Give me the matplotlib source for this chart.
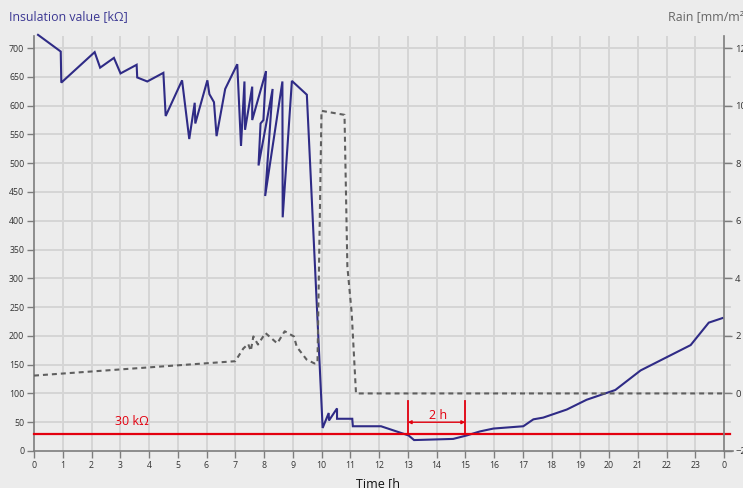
import matplotlib
matplotlib.use("Agg")
import matplotlib.pyplot as plt

plt.rcParams['font.family'] = ['Open Sans', 'DejaVu Sans']

# Insulation value [kOhm] over time [h]
ins_t = [0.14, 0.93, 0.95, 2.11, 2.30, 2.78, 3.01, 3.57, 3.59, 3.94, 4.50, 4.58,
         5.15, 5.40, 5.59, 5.61, 6.03, 6.10, 6.26, 6.35, 6.65, 7.07, 7.20, 7.32,
         7.34, 7.59, 7.59, 8.07, 7.98, 7.88, 7.81, 8.30, 8.04, 8.64, 8.65, 8.97,
         9.49, 10.04, 10.25, 10.26, 10.54, 10.54, 11.07, 11.09, 12.07, 13.03,
         13.22, 14.58, 15.05, 15.51, 15.98, 17.02, 17.37, 17.71, 18.53, 19.22,
         20.22, 21.10, 22.84, 23.47, 23.95]
ins_v = [723, 694, 640, 693, 666, 683, 656, 671, 649, 642, 657, 582,
         644, 542, 605, 569, 644, 620, 606, 547, 629, 672, 530, 642,
         558, 633, 575, 660, 575, 569, 496, 629, 443, 642, 406, 643,
         619, 40, 66, 53, 74, 56, 56, 43, 43, 27,
         19, 21, 27, 34, 39, 43, 55, 58, 72, 89,
         106, 140, 184, 223, 231]

# Rain [mm/m2] over time [h]
rain_t = [0, 7.0, 7.28, 7.45, 7.54, 7.63, 7.79, 8.05, 8.46, 8.72, 9.04, 9.14,
          9.48, 9.76, 9.86, 10.0, 10.8, 10.9, 11.05, 11.2, 24]
rain_v = [0.62, 1.12, 1.56, 1.72, 1.48, 1.98, 1.70, 2.10, 1.74, 2.16, 1.98, 1.62,
          1.18, 1.04, 1.06, 9.82, 9.68, 4.40, 2.80, 0.0, 0.0]

threshold = 30
mark_start, mark_end = 13, 15

x_ticks = list(range(0, 25))
x_labels = [str(h) for h in range(0, 24)] + ["0"]
left_ticks = list(range(0, 701, 50))
right_ticks = list(range(-2, 13, 2))

BG = '#ececec'
GRID = '#d5d5d5'
SPINE = '#7d7d7d'
BLUE = '#2f2b86'
RED = '#e3000f'
GRAY = '#5f5f5f'
TXT = '#333333'

W, H = 743, 488
fig = plt.figure(figsize=(W / 100, H / 100), dpi=100, facecolor=BG)
ax = fig.add_axes([34 / W, (H - 451) / H, 690 / W, (451 - 36) / H])
ax.set_facecolor(BG)
ax.set_xlim(0, 24)
YMAX = 721
ax.set_ylim(0, YMAX)

# grid (extends slightly past right axis)
for v in left_ticks[1:]:
    ax.plot([0, 24.2], [v, v], color=GRID, lw=1.4, clip_on=False, zorder=0)
for t in x_ticks[1:-1]:
    ax.plot([t, t], [0, YMAX], color=GRID, lw=1.4, zorder=0)

ax.spines['top'].set_visible(False)
ax.spines['right'].set_visible(False)
ax.spines['left'].set_color(SPINE)
ax.spines['bottom'].set_color(SPINE)
ax.spines['left'].set_linewidth(1.2)
ax.spines['bottom'].set_linewidth(1.2)
# bottom axis extends to right tick
ax.plot([24, 24.32], [0, 0], color=SPINE, lw=1.2, clip_on=False)

ax.set_xticks(x_ticks)
ax.set_xticklabels(x_labels)
ax.set_yticks(left_ticks)
ax.tick_params(axis='both', colors=SPINE, labelcolor=TXT, labelsize=6.3,
               length=5, width=1, pad=2)

# right axis
ax2 = ax.twinx()
ax2.set_ylim((0 - 100) / 50, (YMAX - 100) / 50)
for s in ['top', 'left', 'bottom']:
    ax2.spines[s].set_visible(False)
ax2.spines['right'].set_color(SPINE)
ax2.spines['right'].set_linewidth(1.2)
ax2.set_yticks(right_ticks)
ax2.tick_params(axis='y', colors=SPINE, labelcolor=TXT, labelsize=6.8,
                length=6, width=1, pad=2)

# rain line
ax2.plot(rain_t, rain_v, color=GRAY, lw=1.5, dashes=(2.4, 1.9), zorder=3)

# insulation line
ax.plot(ins_t, ins_v, color=BLUE, lw=1.5, zorder=4, clip_on=False,
        solid_joinstyle='miter')

# threshold
ax.plot([0, 24.2], [threshold, threshold], color=RED, lw=1.6, zorder=5,
        clip_on=False)
ax.text(3.41, 52, '30 kΩ', color=RED, fontsize=9.0, ha='center', va='center')

# 2 h marker
for t in (mark_start, mark_end):
    ax.plot([t, t], [threshold, 86], color=RED, lw=1.3, zorder=5)
ax.annotate('', xy=(mark_end, 50), xytext=(mark_start, 50),
            arrowprops=dict(arrowstyle='<|-|>', color=RED, lw=1.0,
                            mutation_scale=5, shrinkA=0, shrinkB=0), zorder=5)
ax.text(14.05, 61, '2 h', color=RED, fontsize=9.0, ha='center', va='center')

# titles
fig.text(9 / W, 1 - 17 / H, 'Insulation value [kΩ]', color='#3c3893',
         fontsize=8.9, ha='left', va='center')
fig.text(668 / W, 1 - 17 / H, 'Rain [mm/m²]', color='#666666',
         fontsize=8.9, ha='left', va='center')
fig.text(356 / W, 1 - 487 / H, 'Time [h', color='#111111',
         fontsize=9.0, ha='left', va='baseline')

fig.savefig('out.png', dpi=100, facecolor=BG)
